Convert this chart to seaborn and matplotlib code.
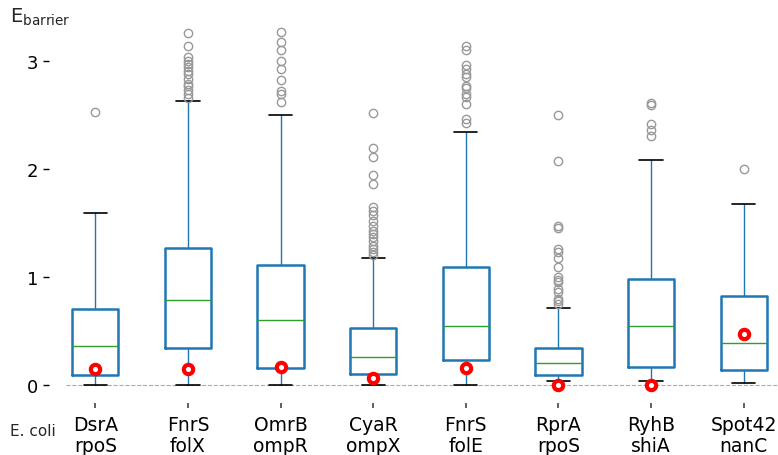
import numpy as np
import matplotlib
matplotlib.use("Agg")
import matplotlib.pyplot as plt
import matplotlib.transforms as mtransforms
import seaborn as sns

# box statistics
labels = ["DsrA\nrpoS", "FnrS\nfolX", "OmrB\nompR", "CyaR\nompX",
          "FnrS\nfolE", "RprA\nrpoS", "RyhB\nshiA", "Spot42\nnanC"]
q1 = [0.095, 0.343, 0.16, 0.10, 0.234, 0.093, 0.17, 0.142]
med = [0.36, 0.787, 0.605, 0.256, 0.55, 0.20, 0.55, 0.386]
q3 = [0.70, 1.266, 1.11, 0.53, 1.09, 0.34, 0.98, 0.827]
whislo = [0.003, 0.0, 0.0, 0.0, 0.0, 0.034, 0.034, 0.016]
whishi = [1.59, 2.63, 2.50, 1.18, 2.345, 0.71, 2.08, 1.68]
fliers = [
    [2.53],
    [3.256, 3.14, 3.04, 3.0, 2.97, 2.94, 2.91, 2.88, 2.83, 2.79, 2.77, 2.73, 2.69, 2.66],
    [3.27, 3.18, 3.10, 3.0, 2.93, 2.82, 2.72, 2.69, 2.62],
    [2.52, 2.19, 2.11, 1.94, 1.86, 1.65, 1.61, 1.57, 1.52, 1.475, 1.43, 1.40, 1.37,
     1.33, 1.29, 1.26, 1.23, 1.20],
    [3.14, 3.10, 2.96, 2.93, 2.88, 2.85, 2.77, 2.75, 2.69, 2.67, 2.60, 2.46, 2.43],
    [2.50, 2.07, 1.475, 1.45, 1.26, 1.23, 1.18, 1.09, 1.0, 0.97, 0.95, 0.89, 0.86,
     0.80, 0.78, 0.75],
    [2.61, 2.59, 2.42, 2.36, 2.31],
    [2.0],
]
# E. coli values (red circles)
ecoli = [0.148, 0.148, 0.17, 0.068, 0.154, 0.0, 0.0, 0.472]

sns.set_style("white", {"xtick.bottom": True, "ytick.left": True})
plt.rcParams['font.family'] = ['DejaVu Sans']

fig = plt.figure(figsize=(7.78, 4.56), dpi=100)
ax = fig.add_axes([49 / 778, 1 - 402 / 456, 741 / 778, 374 / 456])

pos = np.arange(len(labels))
stats = [dict(q1=q1[i], med=med[i], q3=q3[i], whislo=whislo[i], whishi=whishi[i],
              fliers=fliers[i], label=labels[i]) for i in range(len(labels))]

ax.axhline(0, xmin=0.023, color="#aaaaaa", linestyle="--", linewidth=0.8, zorder=0)
ax.bxp(stats, positions=pos, widths=0.5, showfliers=True,
       boxprops=dict(color="#1f77b4", linewidth=1.8),
       whiskerprops=dict(color="#1f77b4", linewidth=1.0),
       capprops=dict(color="black", linewidth=1.2),
       medianprops=dict(color="#2ca02c", linewidth=1.0),
       flierprops=dict(marker="o", markerfacecolor="none", markeredgecolor="#999999",
                       markersize=6, markeredgewidth=1.0))

sns.scatterplot(x=pos, y=ecoli, ax=ax, s=45, color="white", edgecolor="red",
                linewidth=3.0, zorder=5)

ax.set_xlim(-0.5, 7.5)
ax.set_ylim(-0.148, 3.315)
ax.set_yticks([0, 1, 2, 3])
ax.set_xticks(pos)
ax.set_xticklabels(labels, fontsize=13.5, linespacing=1.15)
ax.tick_params(axis="y", labelsize=13, length=4, width=1, direction="out",
               left=True, colors="black")
ax.tick_params(axis="x", length=0, labelcolor="black", pad=10)

# short category tick marks below the plot area
trans = mtransforms.blended_transform_factory(ax.transData, ax.transAxes)
ax.vlines(pos, -0.005, -0.02, transform=trans, colors="#444444", linewidth=1.2,
          clip_on=False)

for s in ax.spines.values():
    s.set_visible(False)

fig.text(10 / 778, 1 - 17 / 456, r"$\mathregular{E_{barrier}}$", fontsize=14,
         va="center", ha="left")
fig.text(10 / 778, 1 - 432 / 456, "E. coli", fontsize=11, va="center", ha="left")

fig.savefig("out.png", dpi=100)
